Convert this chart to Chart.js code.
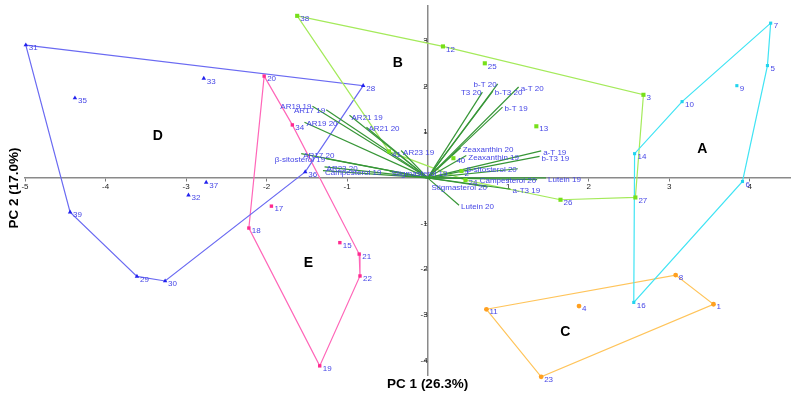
<!DOCTYPE html>
<html>
<head>
<meta charset="utf-8">
<script src="https://cdn.jsdelivr.net/npm/chart.js"></script>
<style>
    html, body { margin: 0; padding: 0; background: #fff; }
    #wrap { width: 795px; height: 398px; }
</style>
</head>
<body>
<div id="wrap"><canvas id="pca" width="795" height="398"></canvas></div>
<script>
// PCA scores per group (sample id, PC1, PC2) + hull order
var idsA = [5, 6, 7, 9, 10, 14, 16];
var pc1A = [4.22, 3.91, 4.26, 3.84, 3.16, 2.57, 2.56];
var pc2A = [2.46, -0.08, 3.39, 2.02, 1.67, 0.53, -2.73];
var hullA = [7, 5, 6, 16, 14, 10];

var idsB = [2, 3, 12, 13, 24, 25, 26, 27, 38, 40, 41];
var pc1B = [0.42, 2.68, 0.19, 1.35, 0.47, 0.71, 1.65, 2.58, -1.62, 0.32, -0.48];
var pc2B = [0.15, 1.82, 2.88, 1.13, -0.05, 2.51, -0.48, -0.43, 3.55, 0.43, 0.58];
var hullB = [38, 12, 3, 27, 26, 24, 41];

var idsC = [1, 4, 8, 11, 23];
var pc1C = [3.55, 1.88, 3.08, 0.73, 1.41];
var pc2C = [-2.77, -2.81, -2.13, -2.88, -4.36];
var hullC = [11, 8, 1, 23];

var idsD = [28, 29, 30, 31, 32, 33, 35, 36, 37, 39];
var pc1D = [-0.80, -3.61, -3.26, -4.99, -2.97, -2.78, -4.38, -1.52, -2.75, -4.44];
var pc2D = [2.02, -2.16, -2.26, 2.91, -0.38, 2.18, 1.75, 0.13, -0.10, -0.75];
var hullD = [31, 28, 36, 30, 29, 39];

var idsE = [15, 17, 18, 19, 20, 21, 22, 34];
var pc1E = [-1.09, -1.94, -2.22, -1.34, -2.03, -0.85, -0.84, -1.68];
var pc2E = [-1.42, -0.62, -1.10, -4.12, 2.23, -1.67, -2.15, 1.16];
var hullE = [20, 34, 21, 22, 19, 18];

// loadings (variable, PC1, PC2)
var loadNames = ["AR19 19", "AR17 19", "AR21 19", "AR19 20", "AR21 20", "AR23 19",
    "AR17 20", "β-sitosterol 19", "AR23 20", "Campesterol 19", "Stigmasterol 19",
    "b-T 20", "T3 20", "b-T3 20", "a-T 20", "b-T 19", "Zeaxanthin 20", "Zeaxanthin 19",
    "a-T 19", "b-T3 19", "β-sitosterol 20", "Lutein 19", "Campesterol 20",
    "Stigmasterol 20", "a-T3 19", "Lutein 20"];
var loadPC1 = [-1.43, -1.26, -0.97, -1.53, -0.76, -0.33,
    -1.57, -1.26, -1.28, -1.30, -0.47,
    0.87, 0.68, 0.81, 1.13, 0.93, 0.41, 0.48,
    1.41, 1.39, 1.12, 1.47, 1.36,
    0.75, 1.03, 0.39];
var loadPC2 = [1.57, 1.49, 1.37, 1.22, 1.11, 0.60,
    0.53, 0.42, 0.24, 0.16, 0.14,
    2.06, 1.88, 1.90, 1.99, 1.55, 0.66, 0.49,
    0.59, 0.47, 0.20, 0.00, -0.04,
    -0.20, -0.25, -0.60];

var groupNames = ["A", "B", "C", "D", "E"];
var groupLabelX = [3.41, -0.37, 1.71, -3.35, -1.48];
var groupLabelY = [0.62, 2.51, -3.38, 0.91, -1.87];

var xTicks = [-5, -4, -3, -2, -1, 1, 2, 3, 4];
var yTicks = [-4, -3, -2, -1, 1, 2, 3];

var FONT = "'Liberation Sans', Arial, sans-serif";
var TEXT_BLUE = "#4646e6";

// labels placed left of the vector end
var rightAligned = ["AR19 19", "AR17 19", "β-sitosterol 19", "b-T 20", "T3 20",
    "β-sitosterol 20", "Campesterol 20", "Stigmasterol 20"];

var groups = [
    {ids: idsA, x: pc1A, y: pc2A, hull: hullA, line: "#40e4f4", dot: "#22d4ee", style: "rect", r: 2.2},
    {ids: idsB, x: pc1B, y: pc2B, hull: hullB, line: "#a4ea5a", dot: "#77e01a", style: "rect", r: 2.9},
    {ids: idsC, x: pc1C, y: pc2C, hull: hullC, line: "#ffc45a", dot: "#ffa020", style: "circle", r: 2.4},
    {ids: idsD, x: pc1D, y: pc2D, hull: hullD, line: "#6a6af2", dot: "#2222ee", style: "triangle", r: 2.6},
    {ids: idsE, x: pc1E, y: pc2E, hull: hullE, line: "#ff66b8", dot: "#ff2a90", style: "rect", r: 2.4}
];

function pointsOf(g) {
    return g.ids.map(function (id, i) {
        return {x: g.x[i], y: g.y[i], id: id};
    });
}

function hullOf(g) {
    var pts = g.hull.map(function (id) {
        var i = g.ids.indexOf(id);
        return {x: g.x[i], y: g.y[i]};
    });
    pts.push(pts[0]);
    return pts;
}

var datasets = [];

// points on top
groups.forEach(function (g) {
    datasets.push({
        kind: "points",
        data: pointsOf(g),
        showLine: false,
        pointStyle: g.style,
        pointRadius: g.r,
        pointBackgroundColor: g.dot,
        pointBorderColor: g.dot,
        pointBorderWidth: 0,
        clip: false
    });
});

// loading vectors
loadNames.forEach(function (name, i) {
    datasets.push({
        kind: "loading",
        name: name,
        data: [{x: 0, y: 0}, {x: loadPC1[i], y: loadPC2[i]}],
        showLine: true,
        borderColor: "#379637",
        borderWidth: 1.2,
        pointRadius: 0,
        clip: false
    });
});

// group outlines
groups.forEach(function (g) {
    datasets.push({
        kind: "hull",
        data: hullOf(g),
        showLine: true,
        borderColor: g.line,
        borderWidth: 1.2,
        pointRadius: 0,
        fill: false,
        tension: 0,
        clip: false
    });
});

var labelsPlugin = {
    id: "labels",
    afterDatasetsDraw: function (chart) {
        var ctx = chart.ctx;
        var xs = chart.scales.x, ys = chart.scales.y;
        ctx.save();
        ctx.textBaseline = "middle";

        chart.data.datasets.forEach(function (ds, di) {
            var meta = chart.getDatasetMeta(di);
            if (ds.kind === "points") {
                ctx.font = "8px " + FONT;
                ctx.fillStyle = TEXT_BLUE;
                ctx.textAlign = "left";
                ds.data.forEach(function (p, i) {
                    var el = meta.data[i];
                    ctx.fillText(String(p.id), el.x + 3, el.y + 3);
                });
            } else if (ds.kind === "loading") {
                var end = meta.data[1];
                ctx.font = "8px " + FONT;
                ctx.fillStyle = TEXT_BLUE;
                if (rightAligned.indexOf(ds.name) >= 0) {
                    ctx.textAlign = "right";
                    ctx.fillText(ds.name, end.x - 1, end.y + 1);
                } else {
                    ctx.textAlign = "left";
                    ctx.fillText(ds.name, end.x + 2, end.y + 2);
                }
            }
        });

        // group letters
        ctx.font = "bold 14px " + FONT;
        ctx.fillStyle = "#000";
        ctx.textAlign = "center";
        groupNames.forEach(function (n, i) {
            ctx.fillText(n, xs.getPixelForValue(groupLabelX[i]), ys.getPixelForValue(groupLabelY[i]));
        });

        // axis titles
        ctx.font = "bold 13.5px " + FONT;
        ctx.fillText("PC 1 (26.3%)", xs.getPixelForValue(0), 384);
        ctx.translate(14, 188);
        ctx.rotate(-Math.PI / 2);
        ctx.fillText("PC 2 (17.0%)", 0, 0);
        ctx.restore();
    }
};

document.addEventListener("DOMContentLoaded", function () {
    var ctx = document.getElementById("pca").getContext("2d");

    new Chart(ctx, {
        type: "scatter",
        data: {datasets: datasets},
        options: {
            responsive: false,
            animation: false,
            layout: {
                padding: {left: 25, right: 5, top: 5, bottom: 23}
            },
            scales: {
                x: {
                    type: "linear",
                    min: -5,
                    max: 4.5,
                    position: {y: 0},
                    afterBuildTicks: function (scale) {
                        scale.ticks = xTicks.map(function (v) { return {value: v}; });
                    },
                    grid: {drawOnChartArea: false, drawTicks: true, tickLength: 3, color: "#7a7a7a"},
                    border: {display: true, color: "#8a8a8a", width: 1.5},
                    ticks: {
                        font: {size: 8, family: FONT},
                        color: "#222",
                        padding: 1,
                        maxRotation: 0,
                        autoSkip: false
                    }
                },
                y: {
                    type: "linear",
                    min: -4.32,
                    max: 3.77,
                    position: {x: 0},
                    afterBuildTicks: function (scale) {
                        scale.ticks = yTicks.map(function (v) { return {value: v}; });
                    },
                    grid: {drawOnChartArea: false, drawTicks: true, tickLength: 3, color: "#7a7a7a"},
                    border: {display: true, color: "#8a8a8a", width: 1.5},
                    ticks: {
                        font: {size: 8, family: FONT},
                        color: "#222",
                        padding: 1,
                        autoSkip: false
                    }
                }
            },
            plugins: {
                legend: {display: false},
                tooltip: {enabled: false}
            }
        },
        plugins: [labelsPlugin]
    });
});
</script>
</body>
</html>
